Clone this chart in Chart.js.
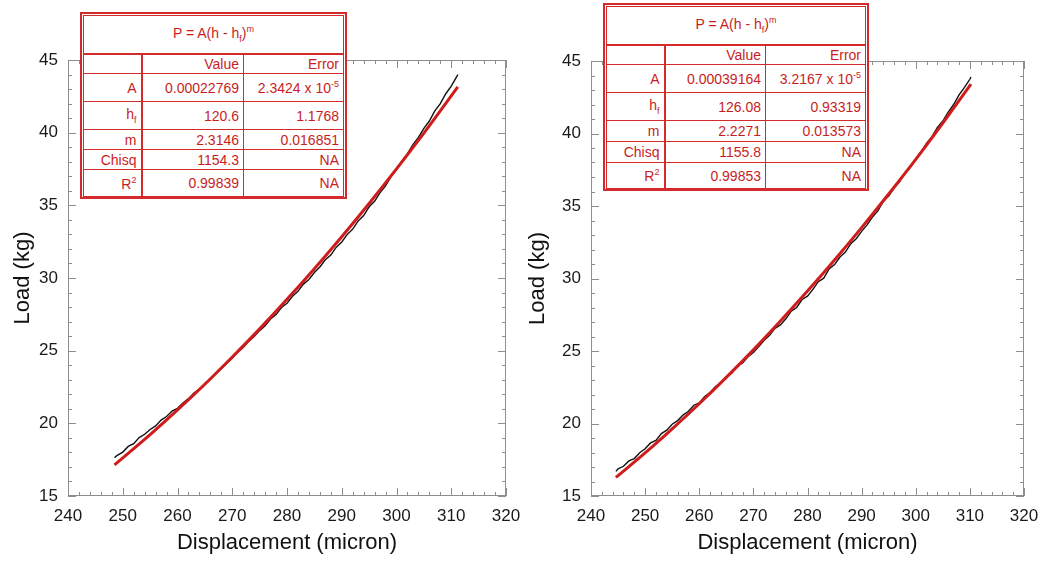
<!DOCTYPE html>
<html>
<head>
<meta charset="utf-8">
<script src="https://cdn.jsdelivr.net/npm/chart.js@4.4.1/dist/chart.umd.min.js"></script>
<style>
  html, body { margin: 0; padding: 0; background: #fff; }
  #wrap { position: relative; width: 1047px; height: 561px; overflow: hidden; font-family: "Liberation Sans", Arial, sans-serif; }
  #wrap canvas { position: absolute; top: 0; }
  .fit { position: absolute; box-sizing: border-box; border: 2px solid #d42a2a; padding: 1px; background: #fff; z-index: 2; }
  .fit table { width: 100%; height: 100%; border-collapse: collapse; table-layout: fixed; color: #c81e1e; font-size: 14px; }
  .fit td { border: 1px solid #d42a2a; text-align: right; padding: 0 4px 0 0; line-height: 1; white-space: nowrap; overflow: visible; }
  .fit td.c1 { border-right: 2px solid #d42a2a; }
  .fit tr.ttl td { text-align: center; border-bottom: 2px solid #d42a2a; font-size: 14px; padding: 0; }
  .sup { font-size: 9px; vertical-align: 6px; }
  .sub { font-size: 9px; vertical-align: -4px; }
</style>
</head>
<body>
<div id="wrap">
  <canvas id="leftChart" width="520" height="561" style="left:0"></canvas>
  <canvas id="rightChart" width="527" height="561" style="left:520px"></canvas>

  <div class="fit" style="left:80px;top:12px;width:267px;height:187px">
    <table>
      <colgroup><col style="width:58px"><col style="width:102px"><col></colgroup>
      <tr class="ttl" style="height:38px"><td colspan="3">P = A(h - h<span class="sub">f</span>)<span class="sup">m</span></td></tr>
      <tr style="height:20px"><td class="c1"></td><td>Value</td><td>Error</td></tr>
      <tr style="height:28px"><td class="c1">A</td><td>0.00022769</td><td>2.3424 x 10<span class="sup">-5</span></td></tr>
      <tr style="height:28px"><td class="c1">h<span class="sub">f</span></td><td>120.6</td><td>1.1768</td></tr>
      <tr style="height:20px"><td class="c1">m</td><td>2.3146</td><td>0.016851</td></tr>
      <tr style="height:20px"><td class="c1">Chisq</td><td>1154.3</td><td>NA</td></tr>
      <tr style="height:27px"><td class="c1">R<span class="sup">2</span></td><td>0.99839</td><td>NA</td></tr>
    </table>
  </div>

  <div class="fit" style="left:603px;top:3px;width:266px;height:188px">
    <table>
      <colgroup><col style="width:58px"><col style="width:101px"><col></colgroup>
      <tr class="ttl" style="height:38px"><td colspan="3">P = A(h - h<span class="sub">f</span>)<span class="sup">m</span></td></tr>
      <tr style="height:20px"><td class="c1"></td><td>Value</td><td>Error</td></tr>
      <tr style="height:28px"><td class="c1">A</td><td>0.00039164</td><td>3.2167 x 10<span class="sup">-5</span></td></tr>
      <tr style="height:28px"><td class="c1">h<span class="sub">f</span></td><td>126.08</td><td>0.93319</td></tr>
      <tr style="height:21px"><td class="c1">m</td><td>2.2271</td><td>0.013573</td></tr>
      <tr style="height:21px"><td class="c1">Chisq</td><td>1155.8</td><td>NA</td></tr>
      <tr style="height:26px"><td class="c1">R<span class="sup">2</span></td><td>0.99853</td><td>NA</td></tr>
    </table>
  </div>
</div>

<script>
// axis ranges
const xMin = 240, xMax = 320, xMajor = 10, xMinor = 2;
const yMin = 15, yMax = 45, yMajor = 5, yMinor = 1;

// left panel: fitted curve (red)
const leftFitX = [248.5, 255, 260, 265, 270, 275, 280, 285, 290, 295, 300, 305, 311.2];
const leftFitY = [17.14, 19.22, 20.92, 22.69, 24.56, 26.50, 28.53, 30.64, 32.84, 35.13, 37.51, 39.97, 43.15];

// left panel: measured load-displacement (black)
const leftDataX = [248.5, 249, 250, 251, 252, 253, 254, 255, 256, 257, 258, 259, 260, 261, 262, 263, 264, 265, 266, 267,
  268, 269, 270, 271, 272, 273, 274, 275, 276, 277, 278, 279, 280, 281, 282, 283, 284, 285, 286, 287, 288, 289, 290,
  291, 292, 293, 294, 295, 296, 297, 298, 299, 300, 301, 302, 303, 304, 305, 306, 307, 308, 309, 310, 311, 311.2];
const leftDataY = [17.64, 17.80, 18.02, 18.41, 18.60, 19.02, 19.25, 19.58, 19.82, 20.22, 20.47, 20.84, 21.03, 21.40,
  21.70, 22.08, 22.36, 22.74, 23.04, 23.42, 23.76, 24.14, 24.48, 24.90, 25.22, 25.64, 25.97, 26.38, 26.72, 27.18,
  27.48, 27.97, 28.26, 28.74, 29.08, 29.58, 29.90, 30.38, 30.76, 31.25, 31.58, 32.12, 32.48, 33.00, 33.36, 33.93,
  34.30, 34.90, 35.28, 35.88, 36.34, 36.98, 37.46, 38.05, 38.56, 39.18, 39.68, 40.30, 40.80, 41.50, 42.00, 42.68,
  43.20, 43.85, 44.00];

// right panel: fitted curve (red)
const rightFitX = [244.6, 250, 255, 260, 265, 270, 275, 280, 285, 290, 295, 300, 305, 310.2];
const rightFitY = [16.28, 17.97, 19.63, 21.36, 23.18, 25.08, 27.07, 29.13, 31.28, 33.51, 35.83, 38.22, 40.72, 43.40];

// right panel: measured load-displacement (black)
const rightDataX = [244.6, 245, 246, 247, 248, 249, 250, 251, 252, 253, 254, 255, 256, 257, 258, 259, 260, 261, 262,
  263, 264, 265, 266, 267, 268, 269, 270, 271, 272, 273, 274, 275, 276, 277, 278, 279, 280, 281, 282, 283, 284, 285,
  286, 287, 288, 289, 290, 291, 292, 293, 294, 295, 296, 297, 298, 299, 300, 301, 302, 303, 304, 305, 306, 307, 308,
  309, 310, 310.2];
const rightDataY = [16.70, 16.88, 17.05, 17.42, 17.58, 17.98, 18.26, 18.66, 18.84, 19.30, 19.54, 19.95, 20.20, 20.58,
  20.84, 21.26, 21.42, 21.86, 22.14, 22.55, 22.80, 23.22, 23.46, 23.95, 24.18, 24.60, 24.90, 25.30, 25.74, 26.08,
  26.56, 26.80, 27.22, 27.75, 28.00, 28.55, 28.78, 29.25, 29.78, 30.02, 30.66, 30.96, 31.48, 31.82, 32.40, 32.74,
  33.25, 33.70, 34.24, 34.66, 35.32, 35.68, 36.24, 36.66, 37.26, 37.66, 38.24, 38.74, 39.34, 39.78, 40.42, 40.86,
  41.48, 42.00, 42.66, 43.18, 43.74, 43.90];

const toPoints = (xs, ys) => xs.map((x, i) => ({ x, y: ys[i] }));

// box frame with inward ticks on all four sides
const frameTicks = {
  id: 'frameTicks',
  beforeDatasetsDraw(chart) {
    const { ctx, chartArea: a, scales: { x, y } } = chart;
    ctx.save();
    ctx.strokeStyle = '#8e8e8e';
    ctx.lineWidth = 1;
    ctx.strokeRect(Math.round(a.left) + 0.5, Math.round(a.top) + 0.5, Math.round(a.width) - 1, Math.round(a.height) - 1);
    ctx.beginPath();
    for (let v = xMin; v <= xMax; v += xMinor) {
      const px = Math.round(x.getPixelForValue(v)) + 0.5;
      const len = v % xMajor === 0 ? 8 : 4;
      ctx.moveTo(px, a.bottom); ctx.lineTo(px, a.bottom - len);
      ctx.moveTo(px, a.top); ctx.lineTo(px, a.top + len);
    }
    for (let v = yMin; v <= yMax; v += yMinor) {
      const py = Math.round(y.getPixelForValue(v)) + 0.5;
      const len = v % yMajor === 0 ? 8 : 4;
      ctx.moveTo(a.left, py); ctx.lineTo(a.left + len, py);
      ctx.moveTo(a.right, py); ctx.lineTo(a.right - len, py);
    }
    ctx.stroke();
    ctx.restore();
  }
};

function makeChart(canvasId, dataPts, fitPts, box) {
  const ctx = document.getElementById(canvasId).getContext('2d');
  return new Chart(ctx, {
    type: 'scatter',
    data: {
      datasets: [
        { data: fitPts, showLine: true, borderColor: '#d01c1c', borderWidth: 3, pointRadius: 0,
          cubicInterpolationMode: 'monotone' },
        { data: dataPts, showLine: true, borderColor: '#111111', borderWidth: 1.4, pointRadius: 0 },
      ]
    },
    options: {
      responsive: false,
      animation: false,
      layout: { padding: { top: box.top, right: box.right, left: 0, bottom: 0 } },
      plugins: { legend: { display: false }, tooltip: { enabled: false } },
      scales: {
        x: {
          type: 'linear', min: xMin, max: xMax,
          grid: { display: false, drawTicks: false }, border: { display: false },
          ticks: { stepSize: xMajor, padding: 10, color: '#1a1a1a', font: { family: 'Liberation Sans', size: 17 } },
          title: { display: true, text: 'Displacement (micron)', color: '#111',
                   font: { family: 'Liberation Sans', size: 22 }, padding: { top: 0, bottom: 5 } },
          afterFit(s) { s.height = 65; s.paddingLeft = 0; s.paddingRight = 0; },
        },
        y: {
          type: 'linear', min: yMin, max: yMax,
          grid: { display: false, drawTicks: false }, border: { display: false },
          ticks: { stepSize: yMajor, padding: 10, color: '#1a1a1a', font: { family: 'Liberation Sans', size: 17 } },
          title: { display: true, text: 'Load (kg)', color: '#111',
                   font: { family: 'Liberation Sans', size: 22 }, padding: { top: box.titlePad, bottom: 0 } },
          afterFit(s) { s.width = box.yWidth; s.paddingTop = 0; s.paddingBottom = 0; },
        },
      },
    },
    plugins: [frameTicks],
  });
}

makeChart('leftChart', toPoints(leftDataX, leftDataY), toPoints(leftFitX, leftFitY),
  { top: 60, right: 14, yWidth: 68, titlePad: 10 });
makeChart('rightChart', toPoints(rightDataX, rightDataY), toPoints(rightFitX, rightFitY),
  { top: 61, right: 23, yWidth: 71, titlePad: 5 });
</script>
</body>
</html>
